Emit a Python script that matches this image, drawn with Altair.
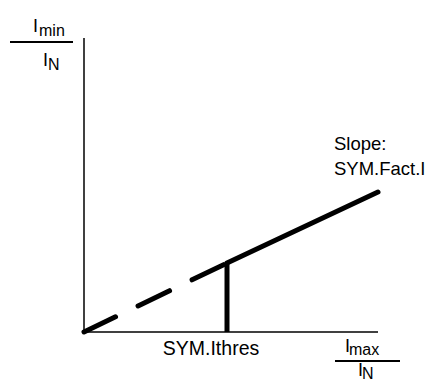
import altair as alt
import pandas as pd

# Diagram values (in axis units: origin at bottom-left of the plot)
axis_len_x = 294
axis_len_y = 294
thres_x = [0, 143]          # dashed segment (below SYM.Ithres)
thres_y = [0, 69]
slope_x = [143, 294]        # solid segment (slope SYM.Fact.I)
slope_y = [69, 140]

# Annotation labels
main_labels = ["SYM.Ithres", "Slope:", "SYM.Fact.I"]
main_lx = [127, 250, 250]
main_ly = [-23, 182, 157]
main_align = ["center", "left", "left"]

big_I_x = [-51, -41, 261, 274]
big_I_y = [300, 266, -20, -44]
sub_text = ["min", "N", "max", "N"]
sub_x = [-45, -36, 265, 278]
sub_y = [296, 262, -23, -47]

frac_x1 = [-74, 251]
frac_x2 = [-11, 316]
frac_y = [290, -29]

X = alt.Scale(domain=[0, axis_len_x], nice=False, zero=False)
Y = alt.Scale(domain=[0, axis_len_y], nice=False, zero=False)

def xq(f):
    return alt.X(f, type="quantitative", scale=X, axis=None)

def yq(f):
    return alt.Y(f, type="quantitative", scale=Y, axis=None)

axes_df = pd.DataFrame({"x": [0, 0], "x2": [axis_len_x, 0],
                        "y": [0, 0], "y2": [0, axis_len_y]})
axes = alt.Chart(axes_df).mark_rule(color="black", strokeWidth=1.5).encode(
    x=xq("x"), x2="x2", y=yq("y"), y2="y2")

dash_df = pd.DataFrame({"x": thres_x, "y": thres_y})
dashed = alt.Chart(dash_df).mark_line(
    color="black", strokeWidth=5, strokeDash=[35, 25], strokeCap="round"
).encode(x=xq("x"), y=yq("y"))

solid_df = pd.DataFrame({"x": slope_x, "y": slope_y})
solid = alt.Chart(solid_df).mark_line(
    color="black", strokeWidth=5, strokeCap="round"
).encode(x=xq("x"), y=yq("y"))

vert_df = pd.DataFrame({"x": [thres_x[1]], "y": [0], "y2": [thres_y[1]]})
vert = alt.Chart(vert_df).mark_rule(color="black", strokeWidth=5, strokeCap="butt").encode(
    x=xq("x"), y=yq("y"), y2="y2")

frac_df = pd.DataFrame({"x": frac_x1, "x2": frac_x2, "y": frac_y})
fracs = alt.Chart(frac_df).mark_rule(color="black", strokeWidth=2).encode(
    x=xq("x"), x2="x2", y=yq("y"))

lab_df = pd.DataFrame({"x": main_lx, "y": main_ly, "t": main_labels, "a": main_align})
labs_c = alt.Chart(lab_df[lab_df.a == "center"]).mark_text(
    font="Liberation Sans", fontSize=19.5, align="center", baseline="alphabetic", color="black"
).encode(x=xq("x"), y=yq("y"), text="t")
labs_l = alt.Chart(lab_df[lab_df.a == "left"]).mark_text(
    font="Liberation Sans", fontSize=18.5, align="left", baseline="alphabetic", color="black"
).encode(x=xq("x"), y=yq("y"), text="t")

I_df = pd.DataFrame({"x": big_I_x, "y": big_I_y, "t": ["I"] * 4})
bigI = alt.Chart(I_df).mark_text(
    font="Liberation Sans", fontSize=18, align="left", baseline="alphabetic", color="black"
).encode(x=xq("x"), y=yq("y"), text="t")

sub_df = pd.DataFrame({"x": sub_x, "y": sub_y, "t": sub_text})
subs = alt.Chart(sub_df).mark_text(
    font="Liberation Sans", fontSize=16, align="left", baseline="alphabetic", color="black"
).encode(x=xq("x"), y=yq("y"), text="t")

chart = alt.layer(axes, dashed, solid, vert, fracs, labs_c, labs_l, bigI, subs).properties(
    width=axis_len_x, height=axis_len_y,
    autosize=alt.AutoSizeParams(type="none"),
    padding={"left": 76, "top": 30, "right": 49, "bottom": 51},
    background="white",
).configure_view(stroke=None)

chart.save("out.html", embed_options={"renderer": "svg", "actions": False})
